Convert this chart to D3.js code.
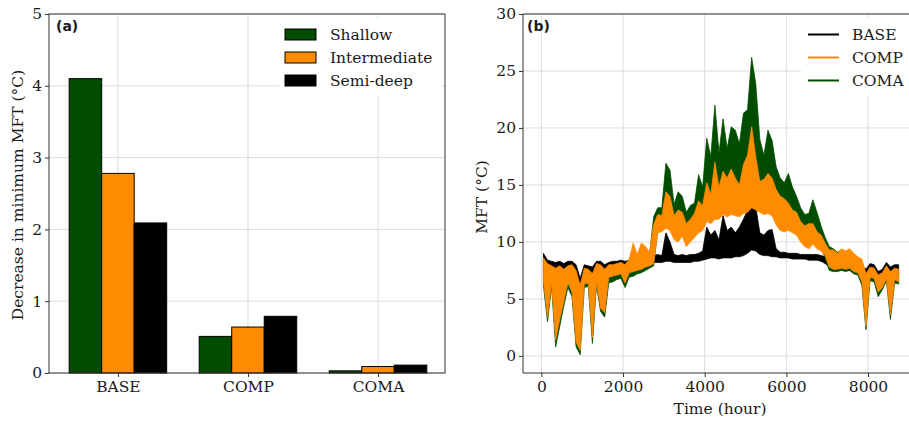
<!DOCTYPE html>
<html>
<head>
<meta charset="utf-8">
<script src="https://cdn.jsdelivr.net/npm/d3@7"></script>
<style>
body { margin: 0; background: #fff; }
svg { display: block; }
text { font-family: "DejaVu Serif", serif; fill: #1a1a1a; }
.grid line { stroke: #dcdcdc; stroke-width: 1; }
.tick line { stroke: #333; }
.tick text { font-size: 15.5px; font-family: "DejaVu Serif", serif; fill: #1a1a1a; }
.tag { font-family: "DejaVu Sans", sans-serif; font-weight: bold; font-size: 14px; }
</style>
</head>
<body>
<svg id="chart" width="909" height="422"></svg>
<script>
// ---- panel (a) data ----
const categories = ['BASE', 'COMP', 'COMA'];
const depthNames = ['Shallow', 'Intermediate', 'Semi-deep'];
const shallow = [4.10, 0.51, 0.03];
const intermediate = [2.78, 0.64, 0.09];
const semiDeep = [2.09, 0.79, 0.11];
const yTicksA = [0, 1, 2, 3, 4, 5];

// ---- panel (b) data: low / high of each 100 h block ----
const hourStep = 100;
const baseLo = [7.6,5.2,7.3,4.2,5.8,6.3,7.3,6.8,2.8,2.3, 6.9,7.0,3.8,7.3,5.6,5.2,7.7,7.8,7.8,7.9,
  7.5,7.9,8.0,8.0,8.0,8.1,8.1,8.2,8.2,8.2, 8.3,8.3,8.2,8.2,8.2,8.2,8.2,8.3,8.3,8.4,
  8.5,8.6,8.6,8.5,8.6,8.6,8.6,8.7,8.7,8.8, 9.0,9.3,9.2,8.9,8.8,8.8,8.7,8.7,8.6,8.6,
  8.6,8.5,8.5,8.5,8.5,8.4,8.4,8.4,8.3,8.1, 7.8,7.7,7.6,7.6,7.5,7.5,7.4,7.2,6.4,4.0,
  7.4,7.2,6.6,6.8,7.3,5.6,7.2,7.0];
const baseHi = [9.0,8.4,8.3,8.2,8.3,8.1,8.3,8.3,8.0,6.8, 8.0,7.9,7.8,8.3,8.3,8.0,8.2,8.3,8.3,8.4,
  8.3,8.4,8.5,8.6,8.6,8.7,8.7,8.8,8.9,8.8, 10.8,10.0,8.9,8.8,8.9,8.8,8.9,8.9,9.0,9.2,
  11.3,10.6,11.0,10.2,12.3,11.0,11.3,10.8,11.3,12.0, 12.8,14.0,13.1,10.8,10.6,11.0,11.1,9.4,9.1,9.1,
  9.0,9.0,9.0,8.9,8.9,8.9,8.9,8.9,8.8,8.7, 8.4,8.3,8.3,8.4,8.3,8.5,8.3,8.2,8.0,7.6,
  8.1,8.0,7.4,7.6,8.2,7.8,8.0,8.0];
const compLo = [6.6,3.4,6.4,1.4,3.2,4.8,6.4,5.6,1.2,0.5, 6.3,6.4,1.6,6.5,4.2,3.8,6.9,7.0,7.1,7.2,
  6.4,7.3,7.4,7.5,7.6,7.8,7.9,8.1,10.8,10.9, 11.2,11.0,10.2,10.0,10.5,9.6,10.0,10.4,10.8,11.0,
  11.8,11.6,12.0,12.0,12.4,12.2,12.4,12.3,12.2,12.5, 12.6,13.0,12.8,12.6,12.4,12.5,12.3,11.5,11.0,10.9,
  11.0,10.8,10.6,10.0,9.6,9.4,9.8,9.4,9.2,8.8, 7.8,7.6,7.6,7.7,7.6,7.7,7.4,7.3,6.5,2.6,
  6.9,6.8,5.6,6.0,6.8,3.6,6.7,6.5];
const compHi = [8.6,8.1,7.9,7.7,7.9,7.6,7.9,8.0,7.5,6.2, 7.7,7.6,7.2,8.1,8.0,7.6,8.0,8.0,8.1,8.2,
  8.0,8.5,9.9,8.9,9.9,9.6,9.1,11.5,12.4,12.3, 14.4,14.0,12.3,12.8,12.6,11.6,12.0,12.5,13.6,13.2,
  15.2,14.2,17.0,14.8,16.2,15.6,16.4,15.6,15.0,16.8, 17.6,20.1,17.5,15.3,15.5,16.0,15.6,14.6,14.0,13.8,
  13.4,12.8,12.6,11.8,11.4,11.6,11.6,10.9,10.6,9.9, 9.3,9.3,9.0,9.4,9.2,9.4,9.0,8.7,8.5,7.2,
  7.8,7.7,7.1,7.3,7.9,7.4,7.7,7.6];
const comaLo = [6.2,3.0,6.1,0.8,2.6,4.4,6.0,5.2,0.8,0.1, 6.0,6.1,1.1,6.2,3.9,3.4,6.4,6.5,6.7,6.8,
  6.0,6.9,7.0,7.2,7.3,7.5,7.7,7.9,11.1,11.2, 11.5,11.3,10.5,10.3,10.8,9.9,10.3,10.7,11.1,11.3,
  12.1,11.9,12.3,12.3,12.7,12.5,12.7,12.6,12.5,12.8, 12.9,13.3,13.1,12.9,12.7,12.8,12.6,11.8,11.3,11.2,
  11.3,11.1,10.9,10.3,9.9,9.7,10.1,9.7,9.5,8.6, 7.5,7.4,7.4,7.5,7.4,7.5,7.2,7.1,6.2,2.3,
  6.6,6.5,5.2,5.8,6.6,3.2,6.4,6.3];
const comaHi = [8.4,7.9,7.7,7.5,7.7,7.4,7.7,7.8,7.2,6.0, 7.5,7.4,7.0,7.9,7.8,7.4,7.7,7.8,7.9,8.0,
  7.7,8.2,9.5,8.7,9.5,9.3,8.9,12.2,13.0,13.0, 16.9,16.3,13.3,14.4,14.0,12.6,13.2,13.4,15.9,14.8,
  19.1,17.5,22.0,17.8,20.8,18.2,20.1,19.8,18.6,21.3, 21.6,26.2,23.9,19.0,17.6,19.8,18.9,16.6,15.6,15.2,
  16.0,14.8,14.0,13.0,12.4,12.5,13.7,12.6,11.4,10.4, 9.6,9.4,9.1,9.3,9.1,9.3,8.9,8.6,8.3,7.0,
  7.6,7.5,6.9,7.0,7.7,7.2,7.5,7.4];
const runNames = ['BASE', 'COMP', 'COMA'];
const xTicksB = [0, 2000, 4000, 6000, 8000];
const yTicksB = [0, 5, 10, 15, 20, 25, 30];

const green = '#004d00', orange = '#ff8c00';
const svg = d3.select('#chart');

// ================= panel (a) =================
const xa = d3.scaleLinear().domain([-0.53, 2.515]).range([49, 445]);
const ya = d3.scaleLinear().domain([0, 5]).range([373, 14]);
const barW = 0.25;

svg.append('g').attr('class', 'grid').selectAll('line').data(yTicksA).join('line')
    .attr('x1', xa.range()[0]).attr('x2', xa.range()[1])
    .attr('y1', d => ya(d)).attr('y2', d => ya(d));
svg.append('g').attr('class', 'grid').selectAll('line').data(categories).join('line')
    .attr('x1', (d, i) => xa(i)).attr('x2', (d, i) => xa(i))
    .attr('y1', ya.range()[0]).attr('y2', ya.range()[1]);

const depthSeries = [shallow, intermediate, semiDeep];
const depthColors = [green, orange, '#000'];
depthSeries.forEach(function (vals, j) {
    svg.append('g').selectAll('rect').data(vals).join('rect')
        .attr('x', (d, i) => xa(i + (j - 1) * barW - barW / 2))
        .attr('width', xa(barW) - xa(0))
        .attr('y', d => ya(d))
        .attr('height', d => ya(0) - ya(d))
        .attr('fill', depthColors[j])
        .attr('stroke', '#000').attr('stroke-width', 1);
});

// axes (a)
svg.append('g').attr('transform', 'translate(' + xa.range()[0] + ',0)')
    .call(d3.axisLeft(ya).tickValues(yTicksA).tickFormat(d3.format('d')).tickSize(4).tickPadding(3))
    .call(g => g.select('.domain').remove());
svg.append('g').attr('transform', 'translate(0,' + ya.range()[0] + ')')
    .call(d3.axisBottom(xa).tickValues([0, 1, 2]).tickFormat(i => categories[i]).tickSize(4).tickPadding(4))
    .call(g => g.select('.domain').remove());
svg.append('rect')
    .attr('x', xa.range()[0]).attr('y', ya.range()[1])
    .attr('width', xa.range()[1] - xa.range()[0]).attr('height', ya.range()[0] - ya.range()[1])
    .attr('fill', 'none').attr('stroke', '#333').attr('stroke-width', 1);

svg.append('text')
    .attr('transform', 'translate(23,195) rotate(-90)')
    .attr('text-anchor', 'middle').style('font-size', '15.5px')
    .text('Decrease in minimum MFT (°C)');
svg.append('text').attr('class', 'tag').attr('x', 56).attr('y', 31).text('(a)');

// legend (a)
const legA = svg.append('g').attr('transform', 'translate(279,18)');
legA.append('rect').attr('width', 163).attr('height', 78).attr('fill', '#fff');
depthNames.forEach(function (name, j) {
    legA.append('rect').attr('x', 6).attr('y', 11 + j * 23).attr('width', 31).attr('height', 11)
        .attr('fill', depthColors[j]).attr('stroke', '#000').attr('stroke-width', 1);
    legA.append('text').attr('x', 51).attr('y', 22 + j * 23).style('font-size', '15.5px').text(name);
});

// ================= panel (b) =================
const xb = d3.scaleLinear().domain([-450, 9200]).range([523, 917]);
const yb = d3.scaleLinear().domain([-1.5, 30]).range([373, 14]);

svg.append('defs').append('clipPath').attr('id', 'clipB')
    .append('rect').attr('x', xb.range()[0]).attr('y', yb.range()[1])
    .attr('width', xb.range()[1] - xb.range()[0]).attr('height', yb.range()[0] - yb.range()[1]);

svg.append('g').attr('class', 'grid').selectAll('line').data(yTicksB).join('line')
    .attr('x1', xb.range()[0]).attr('x2', xb.range()[1])
    .attr('y1', d => yb(d)).attr('y2', d => yb(d));
svg.append('g').attr('class', 'grid').selectAll('line').data(xTicksB).join('line')
    .attr('x1', d => xb(d)).attr('x2', d => xb(d))
    .attr('y1', yb.range()[0]).attr('y2', yb.range()[1]);

// the hourly curves swing a lot within a day, so each run is drawn as its low-high band
function blocks(lo, hi) {
    return lo.map((v, k) => ({ t: k * hourStep + hourStep / 2, lo: v, hi: hi[k] }));
}
const band = d3.area().x(d => xb(d.t)).y0(d => yb(d.lo)).y1(d => yb(d.hi));
const runs = [
    { name: 'BASE', data: blocks(baseLo, baseHi), color: '#000' },
    { name: 'COMA', data: blocks(comaLo, comaHi), color: green },
    { name: 'COMP', data: blocks(compLo, compHi), color: orange }
];
svg.append('g').attr('clip-path', 'url(#clipB)')
    .selectAll('path').data(runs).join('path')
    .attr('d', d => band(d.data))
    .attr('fill', d => d.color).attr('stroke', d => d.color)
    .attr('stroke-width', 0.8).attr('stroke-linejoin', 'round');

svg.append('g').attr('transform', 'translate(' + xb.range()[0] + ',0)')
    .call(d3.axisLeft(yb).tickValues(yTicksB).tickSize(4).tickPadding(3))
    .call(g => g.select('.domain').remove());
svg.append('g').attr('transform', 'translate(0,' + yb.range()[0] + ')')
    .call(d3.axisBottom(xb).tickValues(xTicksB).tickFormat(d3.format('d')).tickSize(4).tickPadding(4))
    .call(g => g.select('.domain').remove());
svg.append('path')
    .attr('d', 'M' + xb.range()[1] + ',' + yb.range()[1] + 'H' + xb.range()[0] + 'V' + yb.range()[0] + 'H' + xb.range()[1])
    .attr('fill', 'none').attr('stroke', '#333').attr('stroke-width', 1);

svg.append('text')
    .attr('transform', 'translate(487,197) rotate(-90)')
    .attr('text-anchor', 'middle').style('font-size', '15.5px')
    .text('MFT (°C)');
svg.append('text').attr('x', 720).attr('y', 414)
    .attr('text-anchor', 'middle').style('font-size', '15.5px')
    .text('Time (hour)');
svg.append('text').attr('class', 'tag').attr('x', 527).attr('y', 31).text('(b)');

// legend (b)
const legB = svg.append('g').attr('transform', 'translate(801,18)');
legB.append('rect').attr('width', 120).attr('height', 78).attr('fill', '#fff');
const runColors = ['#000', orange, green];
runNames.forEach(function (name, j) {
    legB.append('line').attr('x1', 7).attr('x2', 38)
        .attr('y1', 16.5 + j * 23).attr('y2', 16.5 + j * 23)
        .attr('stroke', runColors[j]).attr('stroke-width', 2);
    legB.append('text').attr('x', 51).attr('y', 22 + j * 23).style('font-size', '15.5px').text(name);
});
</script>
</body>
</html>
